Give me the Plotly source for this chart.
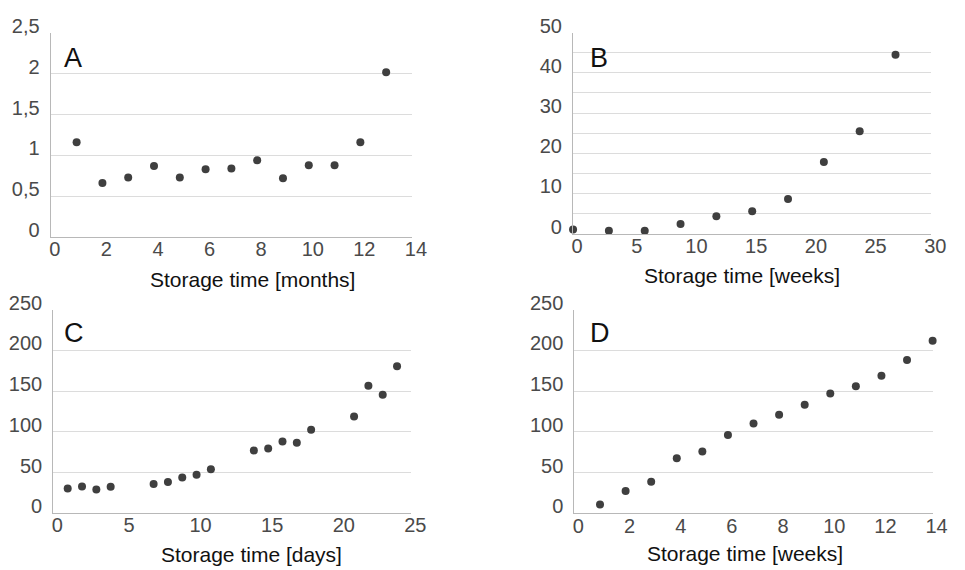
import plotly.graph_objects as go

# Panel A
a_x = [1, 2, 3, 4, 5, 6, 7, 8, 9, 10, 11, 12, 13]
a_y = [1.16, 0.66, 0.73, 0.87, 0.73, 0.83, 0.84, 0.94, 0.72, 0.88, 0.88, 1.16, 2.02]
a_ticks = [0, 0.5, 1, 1.5, 2, 2.5]
a_ticktext = ["0", "0,5", "1", "1,5", "2", "2,5"]

# Panel B
b_x = [0, 3, 6, 9, 12, 15, 18, 21, 24, 27]
b_y = [1.0, 0.7, 0.7, 2.4, 4.3, 5.6, 8.6, 17.8, 25.5, 44.5]

# Panel C
c_x = [1, 2, 3, 4, 7, 8, 9, 10, 11, 14, 15, 16, 17, 18, 21, 22, 23, 24]
c_y = [30.5, 32.9, 29.3, 32.5, 36, 38.3, 43.8, 47.3, 54, 77.1, 79.4, 88, 86.5, 102.5,
       118.9, 156.5, 145.5, 180.4]

# Panel D
d_x = [1, 2, 3, 4, 5, 6, 7, 8, 9, 10, 11, 12, 13, 14]
d_y = [11, 27.4, 38.7, 67.7, 75.9, 96.2, 110.3, 120.9, 133.4, 147.1, 156.1, 169, 188.2, 211.7]

titles = ["Storage time [months]", "Storage time [weeks]", "Storage time [days]", "Storage time [weeks]"]
letters = ["A", "B", "C", "D"]

W, H = 965, 570
FONT = "Liberation Sans, Arial, sans-serif"
MARK = "#3f3f3f"
GRID = "#dcdcdc"
AXL = "#b8b8b8"
TICKC = "#4a4a4a"

# pixel boxes (left, right, top, bottom)
boxes = [(49.7, 417.3, 15.7, 227.7), (581.3, 946, 15.3, 224.3),
         (52.3, 416.7, 303.3, 515.2), (582.7, 947.3, 303.3, 515.3)]

fig = go.Figure()
data = [(a_x, a_y), (b_x, b_y), (c_x, c_y), (d_x, d_y)]
for i, (xs, ys) in enumerate(data):
    sfx = "" if i == 0 else str(i + 1)
    fig.add_trace(go.Scatter(x=xs, y=ys, mode="markers", xaxis="x" + sfx, yaxis="y" + sfx,
                             marker=dict(size=8, color=MARK), showlegend=False,
                             cliponaxis=False))

xranges = [[0, 14], [0, 30], [0, 25], [0, 14]]
xdt = [2, 5, 5, 2]
yranges = [[0, 2.5], [0, 50], [0, 250], [0, 250]]

for i in range(4):
    l, r, t, b = boxes[i]
    sfx = "" if i == 0 else str(i + 1)
    xa = dict(domain=[l / W, r / W], range=xranges[i], anchor="y" + sfx, dtick=xdt[i], tick0=0,
              showgrid=False, zeroline=False, showline=True, linecolor=AXL, linewidth=1.3,
              ticks="", ticklabelshift=4, ticklabelstandoff=-6,
              tickfont=dict(family=FONT, size=20, color=TICKC), fixedrange=True)
    ya = dict(domain=[1 - b / H, 1 - t / H], range=yranges[i], anchor="x" + sfx,
              showgrid=True, gridcolor=GRID, gridwidth=1.3, zeroline=False, showline=True,
              linecolor=AXL, linewidth=1.3, ticks="", ticklabelshift=-7, ticklabelstandoff=6,
              tickfont=dict(family=FONT, size=20, color=TICKC), fixedrange=True)
    if i == 0:
        ya.update(tickvals=a_ticks, ticktext=a_ticktext)
    elif i == 1:
        ya.update(dtick=10, tick0=0, minor=dict(dtick=5, showgrid=True, gridcolor=GRID, gridwidth=1.3))
    else:
        ya.update(dtick=50, tick0=0)
    fig.layout["xaxis" + sfx] = xa
    fig.layout["yaxis" + sfx] = ya

# axis titles (text centres in pixels)
title_pos = [(255, 272), (753, 268), (254, 558), (756, 557)]
for i, (px, py) in enumerate(title_pos):
    fig.add_annotation(x=px / W, y=1 - py / H, xref="paper", yref="paper", text=titles[i],
                       showarrow=False, xanchor="center", yanchor="middle",
                       font=dict(family=FONT, size=21, color="#111"))

letter_pos = [(61, 42), (596, 42), (61, 328), (596, 328)]
for i, (px, py) in enumerate(letter_pos):
    fig.add_annotation(x=px / W, y=1 - py / H, xref="paper", yref="paper", text=letters[i],
                       showarrow=False, xanchor="left", yanchor="middle",
                       font=dict(family=FONT, size=27, color="#111"))

fig.update_layout(width=W, height=H, margin=dict(l=0, r=0, t=0, b=0),
                  paper_bgcolor="white", plot_bgcolor="white")
fig.write_html("out.html")
